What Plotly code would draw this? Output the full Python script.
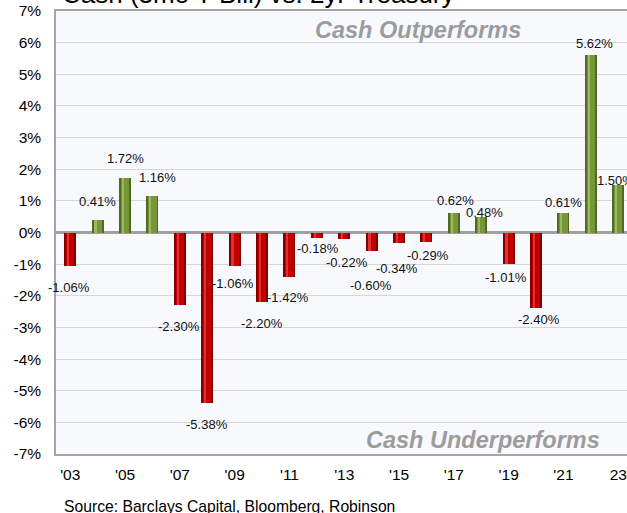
import plotly.graph_objects as go

# ---- data ----
years = list(range(2003, 2024))
excess_return = [-1.06, 0.41, 1.72, 1.16, -2.30, -5.38, -1.06, -2.20, -1.42, -0.18,
                 -0.22, -0.60, -0.34, -0.29, 0.62, 0.48, -1.01, -2.40, 0.61, 5.62, 1.50]
tick_years = [2003, 2005, 2007, 2009, 2011, 2013, 2015, 2017, 2019, 2021, 2023]
tick_text = ["'03", "'05", "'07", "'09", "'11", "'13", "'15", "'17", "'19", "'21", "23"]
y_ticks = list(range(-7, 8))
y_tick_text = [f"{v}%" for v in y_ticks]
title_text = "Cash (3mo T-Bill) vs. 2yr Treasury"
source_text = "Source: Barclays Capital, Bloomberg, Robinson"

# ---- label nudges (pixels, dx right, dy down) ----
label_dx = [-1, 0, 0, 5, -1, 0, -2, 0, -1, 1, 3, -1, -2, 2, 2, 3, -3, 3, 0, 4, -3]
label_dy = [21, -18, -20, -18, 21, 22, 17, 21, 20, 10, 23, 34, 25, 14, -12, -5, 13, 11, -11, -11, -5]

# ---- geometry ----
W, H = 627, 513
L, T, B = 56, 11, 454
px_per_year = 27.4
x0 = 2002.48
x1 = x0 + (W - L) / px_per_year

FONT = "Arial, Liberation Sans, Helvetica, sans-serif"

pos = [v > 0 for v in excess_return]
dark = ["#4F6A22" if p else "#7E0000" for p in pos]
main = ["#779539" if p else "#C20000" for p in pos]
light = ["#9BB85C" if p else "#E23030" for p in pos]

fig = go.Figure()
fig.add_trace(go.Bar(x=years, y=excess_return, width=0.44, marker=dict(color=dark, line=dict(width=0)),
                     hoverinfo="skip", showlegend=False))
fig.add_trace(go.Bar(x=years, y=excess_return, width=0.30, marker=dict(color=main, line=dict(width=0)),
                     hoverinfo="skip", showlegend=False))
fig.add_trace(go.Bar(x=years, y=excess_return, width=0.06, offset=-0.10,
                     marker=dict(color=light, line=dict(width=0)), hoverinfo="skip", showlegend=False))

annotations = []
for yr, v, dx, dy in zip(years, excess_return, label_dx, label_dy):
    annotations.append(dict(x=yr, y=v, xref="x", yref="y", text=f"{v:.2f}%", showarrow=False,
                            xanchor="center", yanchor="middle",
                            xshift=dx, yshift=-dy, font=dict(family=FONT, size=13, color="#111111")))

pw = W - L
ph = B - T
annotations.append(dict(x=(418 - L) / pw, y=(B - 30) / ph, xref="paper", yref="paper",
                        xanchor="center", yanchor="middle",
                        text="<b><i>Cash Outperforms</i></b>", showarrow=False,
                        font=dict(family=FONT, size=23.5, color="#9C9C9C")))
annotations.append(dict(x=(483 - L) / pw, y=(B - 440) / ph, xref="paper", yref="paper",
                        xanchor="center", yanchor="middle",
                        text="<b><i>Cash Underperforms</i></b>", showarrow=False,
                        font=dict(family=FONT, size=23.5, color="#9C9C9C")))
annotations.append(dict(x=0, y=1, xref="paper", yref="paper", xanchor="left", yanchor="bottom",
                        xshift=4, yshift=0, text=title_text, showarrow=False,
                        font=dict(family=FONT, size=26, color="#000000")))
annotations.append(dict(x=0, y=0, xref="paper", yref="paper", xanchor="left", yanchor="middle",
                        xshift=65 - L - 3, yshift=-(506 - B), text=source_text, showarrow=False,
                        font=dict(family=FONT, size=15.7, color="#000000")))

fig.update_layout(
    width=W, height=H,
    margin=dict(l=L, r=0, t=T, b=H - B, pad=0),
    paper_bgcolor="#FFFFFF", plot_bgcolor="#F8F9FD",
    barmode="overlay", bargap=0,
    font=dict(family=FONT, size=15.5, color="#000000"),
    annotations=annotations,
    showlegend=False,
)
fig.update_xaxes(range=[x0, x1], tickvals=tick_years, ticktext=tick_text, showgrid=False,
                 zeroline=False, showline=True, linecolor="#A6A6A6", linewidth=1.5, mirror=True,
                 ticks="", ticklabelstandoff=6, tickfont=dict(size=15.5))
fig.update_yaxes(range=[-7, 7], tickvals=y_ticks, ticktext=y_tick_text, showgrid=True,
                 gridcolor="#D6D6D6", gridwidth=1, zeroline=True, zerolinecolor="#A0A0A0",
                 zerolinewidth=2.5, showline=True, linecolor="#A6A6A6", linewidth=1.5,
                 ticks="", ticklabelstandoff=10, tickfont=dict(size=15.5))

fig.write_html("out.html", config={"displayModeBar": False},
               post_script="document.body.style.margin='0';document.body.style.padding='0';"
                           "document.body.style.overflow='hidden';")
